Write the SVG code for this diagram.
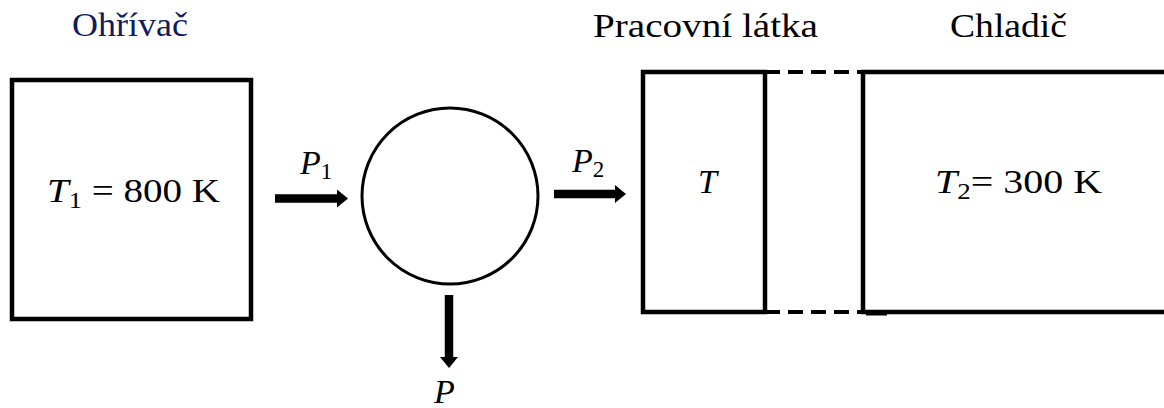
<svg xmlns="http://www.w3.org/2000/svg" width="1164" height="408" viewBox="0 0 1164 408">
<style>
.box{fill:#fff;stroke:#000;stroke-width:4.5}
.t{font-family:"Liberation Serif","Times New Roman",Tinos,"DejaVu Serif","Noto Serif",FreeSerif,serif;fill:#000}
.title{font-size:34px}
.m{font-size:34px}
.i{font-style:italic}
.sub{font-size:23px}
.conn{stroke:#000;stroke-width:8.5;fill:none}
.dash{stroke:#000;stroke-width:4;stroke-dasharray:15 8;fill:none}
</style>
<defs>
<marker id="ah" viewBox="0 0 11 18" refX="0" refY="9" markerWidth="11" markerHeight="18" markerUnits="userSpaceOnUse" orient="auto">
<path d="M0,0 L11,9 L0,18 Z" fill="#000"/>
</marker>
</defs>
<rect width="1164" height="408" fill="#fff"/>

<g id="heater">
<text class="t title" x="72" y="36" style="fill:#101c5c" textLength="116" lengthAdjust="spacingAndGlyphs">Ohřívač</text>
<rect class="box" x="12" y="80" width="239" height="239"/>
<text class="t m" x="47" y="202" textLength="173" lengthAdjust="spacingAndGlyphs"><tspan class="i">T</tspan><tspan class="sub" dy="6">1</tspan><tspan dy="-6"> = 800 K</tspan></text>
</g>

<g id="engine">
<circle cx="450" cy="196" r="88" fill="#fff" stroke="#000" stroke-width="3"/>
</g>

<g id="working">
<text class="t title" x="593" y="37" textLength="225" lengthAdjust="spacingAndGlyphs">Pracovní látka</text>
<rect class="box" x="643" y="72" width="122" height="240"/>
<text class="t m i" x="698" y="193">T</text>
</g>

<g id="cooler">
<text class="t title" x="950" y="37" textLength="117" lengthAdjust="spacingAndGlyphs">Chladič</text>
<path d="M1164,72 H863 V312 H1164" fill="none" stroke="#000" stroke-width="4.5"/>
<line x1="866" y1="314" x2="887" y2="314" stroke="#000" stroke-width="3"/>
<text class="t m" x="935" y="193" textLength="167" lengthAdjust="spacingAndGlyphs"><tspan class="i">T</tspan><tspan class="sub" dy="6">2</tspan><tspan dy="-6">= 300 K</tspan></text>
</g>

<g id="connectors">
<line class="conn" x1="275" y1="198.5" x2="337" y2="198.5" marker-end="url(#ah)"/>
<line class="conn" x1="554" y1="194" x2="615" y2="194" marker-end="url(#ah)"/>
<line class="conn" x1="449" y1="295" x2="449" y2="357" marker-end="url(#ah)"/>
<line class="dash" x1="765" y1="72" x2="862" y2="72"/>
<line class="dash" x1="765" y1="312" x2="862" y2="312"/>
<text class="t m" x="300" y="174"><tspan class="i">P</tspan><tspan class="sub" dy="5">1</tspan></text>
<text class="t m" x="572" y="172"><tspan class="i">P</tspan><tspan class="sub" dy="5">2</tspan></text>
<text class="t m i" x="434" y="403">P</text>
</g>
</svg>
